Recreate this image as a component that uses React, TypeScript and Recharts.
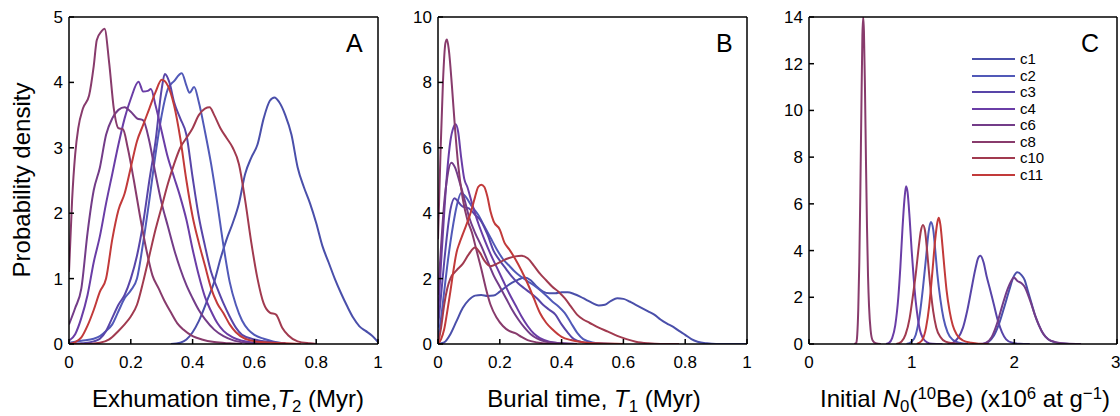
import { LineChart, Line, XAxis, YAxis, Legend } from "recharts";

type Pt = [number, number];

const FONT = '"Liberation Sans", Arial, Helvetica, sans-serif';

const seriesNames = ["c1", "c2", "c3", "c4", "c6", "c8", "c10", "c11"];
const seriesColors = ["#4a4faa", "#5159b8", "#5845a8", "#6a3da6", "#733c88", "#883b6c", "#a13a4f", "#c23a3a"];

const timeTicks = [0, 0.2, 0.4, 0.6, 0.8, 1];
const exhTicksY = [0, 1, 2, 3, 4, 5];
const burTicksY = [0, 2, 4, 6, 8, 10];
const initTicksX = [0, 1, 2, 3];
const initTicksY = [0, 2, 4, 6, 8, 10, 12, 14];

// A: exhumation time T2
const exhC1: Pt[] = [[0.33,0],[0.36,0.02],[0.38,0.07],[0.4,0.18],[0.42,0.35],[0.45,0.7],[0.47,0.95],[0.49,1.3],[0.51,1.6],[0.53,1.85],[0.55,2.15],[0.57,2.6],[0.59,2.85],[0.61,3.05],[0.63,3.45],[0.65,3.72],[0.665,3.77],[0.68,3.7],[0.7,3.5],[0.72,3.2],[0.74,2.7],[0.76,2.4],[0.78,2.15],[0.8,1.85],[0.82,1.5],[0.84,1.25],[0.86,1.0],[0.88,0.78],[0.9,0.58],[0.92,0.4],[0.94,0.27],[0.96,0.2],[0.98,0.13],[1.0,0.03]];
const exhC2: Pt[] = [[0,0.02],[0.04,0.05],[0.08,0.08],[0.1,0.12],[0.12,0.2],[0.14,0.3],[0.16,0.5],[0.18,0.7],[0.2,0.82],[0.22,1.0],[0.24,1.55],[0.26,2.2],[0.28,2.9],[0.3,3.5],[0.32,3.9],[0.34,4.02],[0.365,4.14],[0.38,3.95],[0.39,3.84],[0.405,3.93],[0.42,3.7],[0.44,3.25],[0.46,2.75],[0.48,2.15],[0.5,1.5],[0.52,0.95],[0.54,0.6],[0.56,0.36],[0.58,0.22],[0.6,0.14],[0.63,0.08],[0.66,0.04],[0.7,0.01]];
const exhC3: Pt[] = [[0,0],[0.04,0.01],[0.08,0.04],[0.1,0.08],[0.12,0.2],[0.14,0.4],[0.16,0.6],[0.18,0.75],[0.2,1.0],[0.22,1.35],[0.24,1.85],[0.26,2.5],[0.28,3.1],[0.3,3.9],[0.31,4.13],[0.325,4.0],[0.34,3.7],[0.36,3.45],[0.38,3.2],[0.4,2.55],[0.42,1.95],[0.44,1.5],[0.46,1.1],[0.48,0.85],[0.5,0.62],[0.52,0.42],[0.54,0.25],[0.56,0.14],[0.6,0.07],[0.65,0.03],[0.7,0.01]];
const exhC4: Pt[] = [[0,0.05],[0.02,0.15],[0.04,0.4],[0.06,0.75],[0.08,1.25],[0.1,1.65],[0.12,2.15],[0.14,2.6],[0.16,3.05],[0.18,3.45],[0.2,3.75],[0.225,4.01],[0.24,3.86],[0.255,3.87],[0.265,3.9],[0.28,3.65],[0.3,3.25],[0.32,2.85],[0.34,2.55],[0.36,2.25],[0.38,1.9],[0.4,1.45],[0.42,1.05],[0.44,0.72],[0.46,0.5],[0.48,0.32],[0.5,0.2],[0.53,0.1],[0.56,0.05],[0.6,0.02],[0.65,0]];
const exhC6: Pt[] = [[0,0.3],[0.02,0.55],[0.04,0.85],[0.06,1.7],[0.08,2.35],[0.1,2.7],[0.12,3.2],[0.14,3.45],[0.16,3.58],[0.18,3.62],[0.2,3.55],[0.22,3.45],[0.24,3.42],[0.26,3.1],[0.28,2.6],[0.3,2.15],[0.32,1.8],[0.34,1.45],[0.36,1.15],[0.38,0.9],[0.4,0.7],[0.42,0.52],[0.44,0.38],[0.47,0.22],[0.5,0.12],[0.53,0.06],[0.57,0.02],[0.62,0]];
const exhC8: Pt[] = [[0,1.1],[0.01,2.2],[0.02,2.9],[0.03,3.3],[0.045,3.6],[0.065,3.8],[0.08,4.25],[0.09,4.65],[0.105,4.78],[0.115,4.82],[0.13,4.3],[0.145,3.6],[0.16,3.3],[0.175,3.28],[0.19,3.0],[0.21,2.5],[0.23,1.95],[0.25,1.45],[0.27,1.05],[0.29,0.85],[0.31,0.65],[0.33,0.48],[0.35,0.32],[0.37,0.22],[0.4,0.12],[0.43,0.07],[0.47,0.03],[0.52,0.01],[0.56,0]];
const exhC10: Pt[] = [[0,0],[0.05,0],[0.1,0.02],[0.13,0.07],[0.16,0.2],[0.18,0.3],[0.2,0.42],[0.22,0.6],[0.24,0.95],[0.26,1.35],[0.28,1.75],[0.3,2.1],[0.32,2.45],[0.34,2.75],[0.36,3.0],[0.38,3.15],[0.4,3.3],[0.42,3.5],[0.44,3.6],[0.455,3.62],[0.47,3.5],[0.49,3.3],[0.51,3.15],[0.53,3.0],[0.55,2.75],[0.57,2.2],[0.59,1.55],[0.61,1.0],[0.63,0.62],[0.65,0.48],[0.67,0.45],[0.69,0.25],[0.71,0.13],[0.74,0.04],[0.78,0.01],[0.8,0]];
const exhC11: Pt[] = [[0,0],[0.02,0.03],[0.04,0.1],[0.06,0.28],[0.08,0.52],[0.1,0.8],[0.12,1.0],[0.14,1.6],[0.16,2.05],[0.18,2.3],[0.2,2.7],[0.22,3.1],[0.24,3.35],[0.26,3.6],[0.28,3.85],[0.3,4.04],[0.32,3.95],[0.34,3.65],[0.36,3.15],[0.38,2.5],[0.4,1.95],[0.42,1.55],[0.44,1.2],[0.46,0.85],[0.48,0.62],[0.5,0.47],[0.52,0.3],[0.54,0.18],[0.57,0.08],[0.62,0.03],[0.7,0.01],[0.75,0]];

// B: burial time T1
const burC1: Pt[] = [[0,0],[0.02,0.05],[0.04,0.3],[0.06,0.7],[0.08,1.1],[0.1,1.35],[0.12,1.48],[0.14,1.5],[0.16,1.47],[0.18,1.48],[0.2,1.6],[0.22,1.75],[0.24,1.88],[0.26,1.97],[0.28,2.03],[0.3,1.95],[0.32,1.75],[0.34,1.6],[0.36,1.55],[0.38,1.55],[0.4,1.58],[0.42,1.58],[0.44,1.53],[0.46,1.45],[0.48,1.35],[0.5,1.25],[0.52,1.18],[0.54,1.2],[0.56,1.32],[0.58,1.4],[0.6,1.38],[0.62,1.3],[0.64,1.2],[0.66,1.1],[0.68,1.0],[0.7,0.9],[0.72,0.75],[0.74,0.63],[0.76,0.53],[0.78,0.4],[0.8,0.28],[0.82,0.15],[0.84,0.07],[0.87,0.02],[0.9,0],[1.0,0]];
const burC2: Pt[] = [[0,0.2],[0.01,0.8],[0.02,1.6],[0.03,2.4],[0.04,3.1],[0.05,3.7],[0.06,4.2],[0.075,4.62],[0.09,4.5],[0.11,4.2],[0.13,3.95],[0.15,3.6],[0.17,3.25],[0.19,2.9],[0.21,2.6],[0.23,2.4],[0.25,2.2],[0.27,2.05],[0.29,1.92],[0.31,1.8],[0.33,1.65],[0.35,1.48],[0.37,1.3],[0.39,1.15],[0.41,0.95],[0.43,0.65],[0.45,0.35],[0.47,0.15],[0.5,0.05],[0.55,0.01],[0.6,0]];
const burC3: Pt[] = [[0,0.5],[0.01,1.5],[0.02,2.5],[0.03,3.4],[0.04,4.1],[0.054,4.46],[0.065,4.35],[0.08,4.2],[0.1,4.15],[0.12,3.95],[0.14,3.75],[0.16,3.35],[0.18,2.85],[0.2,2.55],[0.22,2.3],[0.24,2.05],[0.26,1.85],[0.28,1.7],[0.3,1.55],[0.32,1.4],[0.34,1.2],[0.36,1.05],[0.38,0.9],[0.4,0.6],[0.42,0.35],[0.44,0.15],[0.47,0.05],[0.5,0.01],[0.55,0]];
const burC4: Pt[] = [[0,0.8],[0.01,2.5],[0.02,4.0],[0.03,5.3],[0.04,6.2],[0.05,6.62],[0.057,6.72],[0.065,6.5],[0.075,5.7],[0.085,5.05],[0.095,4.8],[0.11,4.3],[0.13,3.7],[0.15,3.2],[0.17,2.75],[0.19,2.35],[0.21,1.95],[0.23,1.55],[0.25,1.2],[0.27,0.85],[0.29,0.55],[0.31,0.32],[0.33,0.18],[0.36,0.07],[0.4,0.02],[0.45,0]];
const burC6: Pt[] = [[0,1.5],[0.01,3.0],[0.02,4.3],[0.03,5.1],[0.043,5.54],[0.055,5.4],[0.07,4.95],[0.085,4.45],[0.1,3.9],[0.12,3.4],[0.14,3.0],[0.16,2.55],[0.18,2.1],[0.2,1.75],[0.22,1.4],[0.24,1.05],[0.26,0.75],[0.28,0.5],[0.3,0.3],[0.32,0.17],[0.35,0.07],[0.4,0.02],[0.45,0]];
const burC8: Pt[] = [[0,3.2],[0.008,5.8],[0.016,8.0],[0.024,9.2],[0.029,9.31],[0.035,9.0],[0.045,7.9],[0.055,6.6],[0.065,5.5],[0.08,4.45],[0.095,3.8],[0.11,3.4],[0.125,2.85],[0.14,2.3],[0.155,1.7],[0.17,1.2],[0.19,0.8],[0.21,0.55],[0.23,0.4],[0.25,0.33],[0.27,0.22],[0.29,0.12],[0.32,0.05],[0.36,0.01],[0.4,0]];
const burC10: Pt[] = [[0,0],[0.01,0.5],[0.02,1.2],[0.03,1.7],[0.04,2.0],[0.06,2.25],[0.08,2.45],[0.1,2.75],[0.12,2.95],[0.135,2.8],[0.15,2.55],[0.17,2.38],[0.19,2.45],[0.21,2.55],[0.23,2.63],[0.25,2.68],[0.27,2.7],[0.29,2.62],[0.31,2.4],[0.33,2.15],[0.35,1.95],[0.37,1.75],[0.39,1.6],[0.41,1.4],[0.43,1.15],[0.45,0.9],[0.47,0.75],[0.49,0.65],[0.52,0.5],[0.55,0.38],[0.58,0.25],[0.61,0.15],[0.64,0.07],[0.68,0.02],[0.72,0],[0.78,0]];
const burC11: Pt[] = [[0,0],[0.01,0.15],[0.02,0.45],[0.03,1.0],[0.04,1.6],[0.05,2.25],[0.06,2.8],[0.07,3.1],[0.08,3.35],[0.09,3.6],[0.1,3.85],[0.11,4.15],[0.12,4.5],[0.13,4.8],[0.14,4.87],[0.15,4.8],[0.16,4.5],[0.17,4.05],[0.18,3.75],[0.2,3.5],[0.215,3.1],[0.23,2.9],[0.25,2.6],[0.27,2.25],[0.29,1.85],[0.31,1.4],[0.33,0.95],[0.35,0.65],[0.37,0.45],[0.4,0.22],[0.43,0.12],[0.47,0.05],[0.52,0.02],[0.6,0]];

// C: initial N0 (10Be)
const iniC1: Pt[] = [[1.7,0],[1.75,0.1],[1.8,0.35],[1.85,0.85],[1.9,1.55],[1.95,2.3],[1.99,2.85],[2.03,3.07],[2.07,2.95],[2.1,2.75],[2.13,2.3],[2.17,1.7],[2.2,1.25],[2.24,0.8],[2.28,0.45],[2.33,0.2],[2.4,0.07],[2.5,0.01],[2.6,0]];
const iniC2: Pt[] = [[0.95,0],[1.0,0.1],[1.04,0.4],[1.08,1.3],[1.11,2.4],[1.14,3.7],[1.165,4.8],[1.187,5.22],[1.21,4.9],[1.23,4.0],[1.25,3.0],[1.28,1.9],[1.31,1.1],[1.35,0.5],[1.4,0.18],[1.46,0.05],[1.55,0]];
const iniC3: Pt[] = [[1.35,0],[1.4,0.05],[1.45,0.25],[1.5,0.7],[1.54,1.4],[1.58,2.3],[1.62,3.2],[1.65,3.7],[1.67,3.78],[1.7,3.5],[1.73,2.9],[1.76,2.4],[1.8,1.7],[1.84,1.0],[1.88,0.5],[1.92,0.2],[1.98,0.05],[2.05,0.01],[2.15,0]];
const iniC4: Pt[] = [[0.75,0],[0.78,0.05],[0.81,0.25],[0.84,0.8],[0.87,2.0],[0.89,3.3],[0.91,4.9],[0.93,6.2],[0.945,6.75],[0.96,6.5],[0.98,5.4],[1.0,4.0],[1.02,2.8],[1.04,1.8],[1.06,1.1],[1.08,0.6],[1.11,0.25],[1.15,0.07],[1.2,0.01],[1.3,0]];
const iniC6: Pt[] = [[1.65,0],[1.72,0.05],[1.78,0.3],[1.83,0.85],[1.88,1.6],[1.93,2.3],[1.97,2.7],[1.995,2.85],[2.03,2.7],[2.07,2.6],[2.1,2.45],[2.13,2.15],[2.17,1.65],[2.2,1.25],[2.24,0.8],[2.28,0.45],[2.33,0.2],[2.4,0.08],[2.5,0.02],[2.65,0]];
const iniC8: Pt[] = [[0.44,0],[0.46,0.05],[0.47,0.4],[0.48,1.5],[0.49,3.5],[0.5,6.5],[0.51,10.0],[0.52,13.2],[0.528,14],[0.535,13.4],[0.545,11.0],[0.555,7.8],[0.565,5.0],[0.575,2.9],[0.585,1.6],[0.6,0.6],[0.62,0.15],[0.65,0.03],[0.7,0]];
const iniC10: Pt[] = [[0.85,0],[0.9,0.1],[0.94,0.4],[0.98,1.1],[1.01,2.0],[1.04,3.0],[1.07,4.2],[1.09,4.85],[1.11,5.1],[1.13,4.85],[1.15,4.0],[1.17,3.0],[1.19,2.1],[1.21,1.4],[1.24,0.7],[1.28,0.3],[1.33,0.1],[1.4,0.03],[1.5,0]];
const iniC11: Pt[] = [[1.05,0],[1.1,0.15],[1.14,0.7],[1.17,1.6],[1.2,3.0],[1.23,4.5],[1.25,5.2],[1.265,5.4],[1.28,5.1],[1.3,4.2],[1.32,3.2],[1.34,2.3],[1.37,1.4],[1.4,0.8],[1.44,0.4],[1.5,0.15],[1.58,0.05],[1.65,0.01],[1.75,0]];

const exhSeries = [exhC1, exhC2, exhC3, exhC4, exhC6, exhC8, exhC10, exhC11];
const burSeries = [burC1, burC2, burC3, burC4, burC6, burC8, burC10, burC11];
const iniSeries = [iniC1, iniC2, iniC3, iniC4, iniC6, iniC8, iniC10, iniC11];

const toRows = (pts: Pt[]) => pts.map(([x, y]) => ({ x, y }));

const axisStyle = { stroke: "#000", strokeWidth: 1.5 };
const tickStyle = { fill: "#000", fontSize: 17, fontFamily: FONT };

function renderLegend(props: any) {
  const items = [...(props.payload || [])].sort(
    (a: any, b: any) => seriesNames.indexOf(a.value) - seriesNames.indexOf(b.value)
  );
  return (
    <div style={{ fontFamily: FONT }}>
      {items.map((p: any) => (
        <div key={p.value} style={{ display: "flex", alignItems: "center", height: 16.5 }}>
          <span style={{ width: 43, borderTop: `2.5px solid ${p.color}`, marginRight: 5 }} />
          <span style={{ fontSize: 15, lineHeight: "16.5px", color: "#000" }}>{p.value}</span>
        </div>
      ))}
    </div>
  );
}

function Panel({
  left,
  width,
  marginLeft,
  marginRight,
  series,
  xDomain,
  xTicks,
  yDomain,
  yTicks,
  legend,
}: {
  left: number;
  width: number;
  marginLeft: number;
  marginRight: number;
  series: Pt[][];
  xDomain: [number, number];
  xTicks: number[];
  yDomain: [number, number];
  yTicks: number[];
  legend?: boolean;
}) {
  return (
    <div style={{ position: "absolute", left, top: 0 }}>
      <LineChart width={width} height={416} margin={{ top: 16, right: marginRight, bottom: 42, left: marginLeft }}>
        <XAxis
          xAxisId="b"
          type="number"
          dataKey="x"
          domain={xDomain}
          ticks={xTicks}
          allowDataOverflow
          height={30}
          tickSize={-5}
          tickMargin={17}
          axisLine={axisStyle}
          tickLine={axisStyle}
          tick={tickStyle}
        />
        <XAxis
          xAxisId="t"
          orientation="top"
          type="number"
          dataKey="x"
          domain={xDomain}
          ticks={xTicks}
          allowDataOverflow
          height={1}
          tickSize={-5}
          axisLine={axisStyle}
          tickLine={axisStyle}
          tick={false}
        />
        <YAxis
          yAxisId="l"
          type="number"
          domain={yDomain}
          ticks={yTicks}
          allowDataOverflow
          width={50}
          tickSize={-5}
          tickMargin={11}
          axisLine={axisStyle}
          tickLine={axisStyle}
          tick={tickStyle}
        />
        <YAxis
          yAxisId="r"
          orientation="right"
          type="number"
          domain={yDomain}
          ticks={yTicks}
          allowDataOverflow
          width={1}
          tickSize={-5}
          axisLine={axisStyle}
          tickLine={axisStyle}
          tick={false}
        />
        {series.map((pts, i) => (
          <Line
            key={seriesNames[i]}
            name={seriesNames[i]}
            xAxisId="b"
            yAxisId="l"
            data={toRows(pts)}
            dataKey="y"
            type="monotone"
            stroke={seriesColors[i]}
            strokeWidth={2}
            dot={false}
            activeDot={false}
            isAnimationActive={false}
          />
        ))}
        {legend && (
          <Legend
            layout="vertical"
            align="center"
            verticalAlign="middle"
            wrapperStyle={{ top: 51, left: 222, width: 100 }}
            content={renderLegend}
          />
        )}
      </LineChart>
    </div>
  );
}

const titleStyle = {
  position: "absolute" as const,
  top: 386,
  fontSize: 24,
  lineHeight: "26px",
  fontFamily: FONT,
  whiteSpace: "nowrap" as const,
  color: "#000",
  transform: "translateX(-50%)",
};
const letterStyle = {
  position: "absolute" as const,
  top: 31,
  fontSize: 25,
  lineHeight: "25px",
  fontFamily: FONT,
  color: "#000",
};
const sub = { fontSize: "0.7em", verticalAlign: "-0.3em", lineHeight: 0 };
const sup = { fontSize: "0.7em", verticalAlign: "0.5em", lineHeight: 0 };

export default function App() {
  return (
    <div style={{ position: "fixed", left: 0, top: 0, width: 1120, height: 416, background: "#fff", overflow: "hidden" }}>
      <Panel left={0} width={390} marginLeft={19} marginRight={11} series={exhSeries} xDomain={[0, 1]} xTicks={timeTicks} yDomain={[0, 5]} yTicks={exhTicksY} />
      <Panel left={380} width={380} marginLeft={8} marginRight={12} series={burSeries} xDomain={[0, 1]} xTicks={timeTicks} yDomain={[0, 10]} yTicks={burTicksY} />
      <Panel left={750} width={370} marginLeft={9} marginRight={2} series={iniSeries} xDomain={[0, 3]} xTicks={initTicksX} yDomain={[0, 14]} yTicks={initTicksY} legend />

      <div style={{ ...titleStyle, left: 228 }}>
        Exhumation time,<i>T</i><span style={sub}>2</span> (Myr)
      </div>
      <div style={{ ...titleStyle, left: 594 }}>
        Burial time, <i>T</i><span style={sub}>1</span> (Myr)
      </div>
      <div style={{ ...titleStyle, left: 965 }}>
        Initial <i>N</i><span style={sub}>0</span>(<span style={sup}>10</span>Be) (x10<span style={sup}>6</span> at g<span style={sup}>−1</span>)
      </div>
      <div
        style={{
          position: "absolute",
          left: 22,
          top: 180,
          transform: "translate(-50%, -50%) rotate(-90deg)",
          fontSize: 24,
          fontFamily: FONT,
          whiteSpace: "nowrap",
          color: "#000",
        }}
      >
        Probability density
      </div>
      <div style={{ ...letterStyle, left: 346 }}>A</div>
      <div style={{ ...letterStyle, left: 716 }}>B</div>
      <div style={{ ...letterStyle, left: 1081 }}>C</div>
    </div>
  );
}
